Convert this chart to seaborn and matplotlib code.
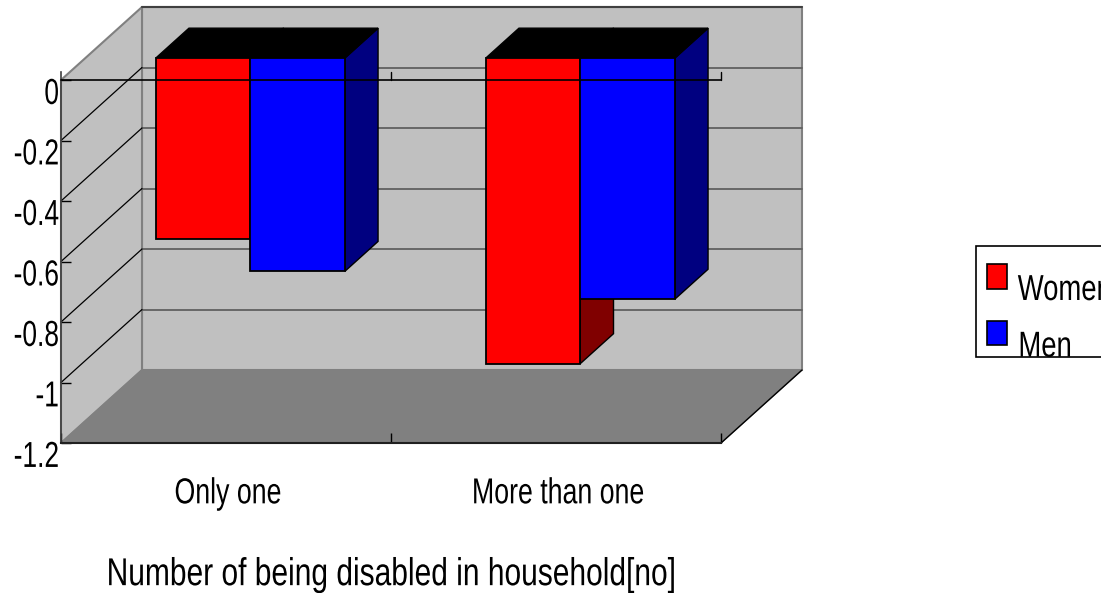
import pandas as pd
import matplotlib
matplotlib.use('Agg')
import matplotlib.pyplot as plt
import seaborn as sns
from matplotlib.patches import Polygon, Patch, Rectangle
from matplotlib.patheffects import AbstractPathEffect
from matplotlib.transforms import Affine2D

categories = ['Only one', 'More than one']
women = [-0.598, -1.01]
men = [-0.705, -0.797]
y_ticks = [0, -0.2, -0.4, -0.6, -0.8, -1, -1.2]
y_tick_labels = ['0', '-0.2', '-0.4', '-0.6', '-0.8', '-1', '-1.2']
x_label = 'Number of being disabled in household[no]'

df = pd.DataFrame({
    'category': categories * 2,
    'value': women + men,
    'sex': ['Women'] * 2 + ['Men'] * 2,
})


# the original uses a squeezed font, no narrow family here so squeeze the glyphs
class Squeeze(AbstractPathEffect):
    def __init__(self, sx, anchor='center', dx=0, dy=0, sy=1):
        super().__init__()
        self.sx = sx
        self.sy = sy
        self.anchor = anchor
        self.dx = dx
        self.dy = dy

    def draw_path(self, renderer, gc, tpath, affine, rgbFace=None):
        box = tpath.get_extents(affine)
        cx = {'left': box.x0, 'right': box.x1, 'center': (box.x0 + box.x1) / 2}[self.anchor]
        t = (affine + Affine2D().translate(-cx, -box.y1).scale(self.sx, self.sy)
             .translate(cx + self.dx, box.y1 + self.dy))
        renderer.draw_path(gc, tpath, t, rgbFace)


sns.set_style('white')
plt.rcParams['font.family'] = ['Liberation Sans']

W, H = 1101, 593
fig = plt.figure(figsize=(W / 100, H / 100), dpi=100, facecolor='white')
ax = fig.add_axes([61 / W, (H - 443) / H, 660 / W, 363 / H])

sns.barplot(data=df, x='category', y='value', hue='sex', order=categories,
            hue_order=['Women', 'Men'], palette={'Women': '#ff0000', 'Men': '#0000ff'},
            width=0.573, gap=0, saturation=1, edgecolor='black', linewidth=1.3,
            legend=False, ax=ax)

ax.set_xlim(-0.5, 1.5)
ax.set_ylim(-1.2, 0)
ax.set_facecolor('none')

# depth of the fake 3d box, in data units
DX = 81 / 330
DY = 73 / 302.5
BAR_D0 = 0.30
BAR_D1 = 0.71


def proj(x, v, d):
    return x + d * DX, v + d * DY


def face(points, color, z, edge='black', lw=1.0):
    ax.add_patch(Polygon([proj(*p) for p in points], closed=True, facecolor=color,
                         edgecolor=edge, linewidth=lw, zorder=z, clip_on=False))


xa, xb = ax.get_xlim()
ya, yb = ax.get_ylim()

# walls and floor
face([(xa, ya, 1), (xb, ya, 1), (xb, yb, 1), (xa, yb, 1)], '#c0c0c0', 0.1, '#808080', 1.5)
face([(xa, ya, 0), (xa, ya, 1), (xa, yb, 1), (xa, yb, 0)], '#c0c0c0', 0.2, '#808080', 1.5)
face([(xa, ya, 0), (xb, ya, 0), (xb, ya, 1), (xa, ya, 1)], '#808080', 0.3, '#808080', 1.0)

# top edge of back wall is darker
ax.plot(*zip(proj(xa, yb, 1), proj(xb, yb, 1)), color='#404040', lw=1.5, zorder=0.4, clip_on=False)
ax.plot(*zip(proj(xb, ya, 0), proj(xb, ya, 1)), color='black', lw=1.0, zorder=0.4, clip_on=False)

# gridlines
for t in y_ticks[1:-1]:
    ax.plot(*zip(proj(xa, t, 1), proj(xb, t, 1)), color='#606060', lw=1.3, zorder=0.5, clip_on=False)
    ax.plot(*zip(proj(xa, t, 0), proj(xa, t, 1)), color='black', lw=0.9, zorder=0.5, clip_on=False)

# bars: move seaborn's faces back into the box and add side + top
side_colors = ['#800000', '#000080']
for i, cont in enumerate(ax.containers):
    for bar in cont:
        x0 = bar.get_x()
        x1 = x0 + bar.get_width()
        v = bar.get_height()
        z = 2 + i * 2
        face([(x1, 0, BAR_D0), (x1, 0, BAR_D1), (x1, v, BAR_D1), (x1, v, BAR_D0)], side_colors[i], z)
        face([(x0, 0, BAR_D0), (x1, 0, BAR_D0), (x1, 0, BAR_D1), (x0, 0, BAR_D1)], 'black', z)
        sx, sy = proj(x0, 0, BAR_D0)
        bar.set_x(sx)
        bar.set_y(sy)
        bar.set_zorder(z + 1)
        bar.set_clip_on(False)

# axes
sns.despine(ax=ax, top=True, right=True)
ax.spines['left'].set_color('#404040')
ax.spines['left'].set_linewidth(1.2)
ax.spines['left'].set_bounds(-1.2, 0.025)
ax.spines['bottom'].set_color('#202020')
ax.spines['bottom'].set_linewidth(1.5)
ax.spines['left'].set_zorder(1)
ax.spines['bottom'].set_zorder(1)
ax.axhline(0, color='black', lw=1.2, zorder=8, clip_on=False)

ax.set_yticks(y_ticks)
ax.set_yticklabels(y_tick_labels, fontsize=24, va='top')
ax.tick_params(axis='y', direction='in', length=7, width=1, pad=2, color='black', labelcolor='black', left=True)
for lab in ax.get_yticklabels():
    lab.set_path_effects([Squeeze(0.79, 'right', dx=1, dy=2, sy=1.083)])

ax.set_xticks([0, 1])
ax.set_xticklabels(categories, fontsize=26)
ax.set_xticks([-0.5, 0.5, 1.5], minor=True)
ax.tick_params(axis='x', which='major', length=0, pad=24, labelcolor='black')
ax.tick_params(axis='x', which='minor', direction='in', length=7, width=1, color='black', bottom=True)
for lab in ax.get_xticklabels():
    lab.set_path_effects([Squeeze(0.74, 'center', dx=2)])

ax.set_xlabel(x_label, fontsize=28, labelpad=33, color='black')
ax.xaxis.label.set_path_effects([Squeeze(0.77, 'center')])
ax.set_ylabel('')

# tick marks on the zero line for the categories
for t in [0.5, 1.5]:
    ax.plot([t, t], [0, 0.025], color='black', lw=1, zorder=8, clip_on=False)

# legend box runs off the right edge like the original
fig.add_artist(Rectangle((976 / W, 1 - 357 / H), 140 / W, 111 / H, transform=fig.transFigure,
                         facecolor='white', edgecolor='black', linewidth=1.2))
handles = [Patch(facecolor='#ff0000', edgecolor='black', linewidth=1.2, label='Women'),
           Patch(facecolor='#0000ff', edgecolor='black', linewidth=1.2, label='Men')]
leg = fig.legend(handles=handles, loc='upper left', bbox_to_anchor=(987 / W, 1 - 273 / H),
                 borderaxespad=0, fontsize=26, frameon=False, labelcolor='black',
                 handlelength=0.55, handleheight=0.67, handletextpad=0.3,
                 borderpad=0, labelspacing=0.6)
for h in leg.legend_handles:
    h.set_y(h.get_y() + 8)
for txt in leg.get_texts():
    txt.set_path_effects([Squeeze(0.76, 'left')])

fig.savefig('out.png', dpi=100)
